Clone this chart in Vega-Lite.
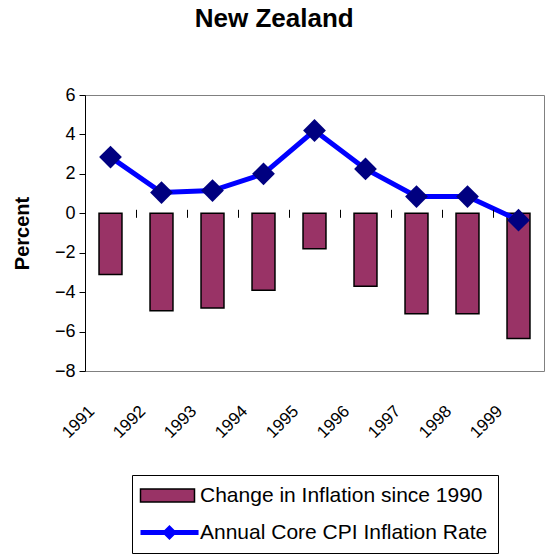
{
  "$schema": "https://vega.github.io/schema/vega-lite/v6.json",
  "width": 459,
  "height": 276,
  "autosize": "none",
  "padding": {"left": 85, "top": 95, "right": 5, "bottom": 185},
  "title": {
    "text": "New Zealand",
    "font": "Liberation Sans",
    "fontSize": 26,
    "fontWeight": "bold",
    "color": "black",
    "anchor": "middle",
    "frame": "bounds",
    "dx": -4,
    "offset": 54
  },
  "data": {
    "values": [
      {"year": "1991", "change": -3.1, "core": 2.85},
      {"year": "1992", "change": -4.95, "core": 1.05},
      {"year": "1993", "change": -4.8, "core": 1.15},
      {"year": "1994", "change": -3.9, "core": 2.0},
      {"year": "1995", "change": -1.8, "core": 4.2},
      {"year": "1996", "change": -3.7, "core": 2.25},
      {"year": "1997", "change": -5.1, "core": 0.85},
      {"year": "1998", "change": -5.1, "core": 0.85},
      {"year": "1999", "change": -6.35, "core": -0.35}
    ]
  },
  "encoding": {
    "x": {
      "field": "year",
      "type": "ordinal",
      "scale": {"paddingInner": 0.55, "paddingOuter": 0.275},
      "axis": {
        "title": null,
        "orient": "bottom",
        "offset": -161.7,
        "zindex": 1,
        "domain": false,
        "ticks": true,
        "tickOffset": -25.5,
        "tickSize": 8,
        "tickColor": "black",
        "tickWidth": 1,
        "labelAngle": -45,
        "labelAlign": "right",
        "labelBaseline": "middle",
        "labelPadding": 191,
        "labelOffset": 6.5,
        "labelFont": "Liberation Sans",
        "labelFontSize": 17,
        "labelColor": "black",
        "labelOverlap": false,
        "labelFlush": false
      }
    }
  },
  "layer": [
    {
      "mark": {"type": "bar", "stroke": "black", "strokeWidth": 1.5},
      "encoding": {
        "y": {
          "field": "change",
          "type": "quantitative",
          "scale": {"domain": [-8, 6], "nice": false, "zero": false},
          "axis": {
            "title": "Percent",
            "titleFont": "Liberation Sans",
            "titleFontSize": 20,
            "titleFontWeight": "bold",
            "titleColor": "black",
            "titlePadding": 22,
            "values": [-8, -6, -4, -2, 0, 2, 4, 6],
            "tickCount": 8,
            "labelOverlap": false,
            "grid": false,
            "domainColor": "black",
            "domainWidth": 1,
            "ticks": true,
            "tickColor": "black",
            "tickSize": 6,
            "labelPadding": 4,
            "labelFont": "Liberation Sans",
            "labelFontSize": 18,
            "labelColor": "black"
          }
        },
        "fill": {
          "datum": "Change in Inflation since 1990",
          "type": "nominal",
          "scale": {
            "domain": ["Change in Inflation since 1990", "Annual Core CPI Inflation Rate"],
            "range": ["#993366", "#0000FF"]
          },
          "legend": {
            "title": null,
            "orient": "none",
            "legendX": 47,
            "legendY": 380,
            "direction": "vertical",
            "padding": 10,
            "strokeColor": "black",
            "fillColor": "white",
            "symbolSize": 900,
            "symbolStrokeWidth": 1.5,
            "rowPadding": 15,
            "labelOffset": 37,
            "labelFont": "Liberation Sans",
            "labelFontSize": 21,
            "labelColor": "black",
            "labelLimit": 500,
            "encoding": {
              "symbols": {
                "shape": {"value": {"expr": "datum.value === 'Change in Inflation since 1990' ? 'M-0.8,-0.43H2.8V0.43H-0.8Z' : 'M-0.8,-0.17H3.07V0.17H-0.8Z M1.13,-0.5L1.63,0L1.13,0.5L0.63,0Z'"}},
                "fill": {"value": {"expr": "datum.value === 'Change in Inflation since 1990' ? '#993366' : {gradient: 'linear', x1: 0, y1: 0, x2: 1, y2: 0, stops: [{offset: 0, color: '#0000FF'}, {offset: 0.413, color: '#0000FF'}, {offset: 0.413, color: '#000080'}, {offset: 0.584, color: '#000080'}, {offset: 0.584, color: '#0000FF'}, {offset: 1, color: '#0000FF'}]}"}},
                "stroke": {"value": {"expr": "datum.value === 'Change in Inflation since 1990' ? 'black' : 'transparent'"}},
                "strokeWidth": {"value": {"expr": "datum.value === 'Change in Inflation since 1990' ? 1.5 : 0"}},
                "strokeOpacity": {"value": 1},
                "opacity": {"value": 1},
                "fillOpacity": {"value": 1}
              }
            }
          }
        }
      }
    },
    {
      "mark": {"type": "rule", "color": "black", "strokeWidth": 1},
      "encoding": {"y": {"datum": 0, "type": "quantitative"}}
    },
    {
      "mark": {"type": "line", "strokeWidth": 5},
      "encoding": {
        "y": {"field": "core", "type": "quantitative"},
        "stroke": {
          "datum": "Annual Core CPI Inflation Rate",
          "type": "nominal",
          "scale": {
            "domain": ["Change in Inflation since 1990", "Annual Core CPI Inflation Rate"],
            "range": ["black", "#0000FF"]
          },
          "legend": {
            "title": null,
            "orient": "none",
            "legendX": 47,
            "legendY": 380,
            "direction": "vertical",
            "padding": 10,
            "strokeColor": "black",
            "fillColor": "white",
            "symbolSize": 900,
            "symbolStrokeWidth": 1.5,
            "rowPadding": 15,
            "labelOffset": 37,
            "labelFont": "Liberation Sans",
            "labelFontSize": 21,
            "labelColor": "black",
            "labelLimit": 500,
            "encoding": {
              "symbols": {
                "shape": {"value": {"expr": "datum.value === 'Change in Inflation since 1990' ? 'M-0.8,-0.43H2.8V0.43H-0.8Z' : 'M-0.8,-0.17H3.07V0.17H-0.8Z M1.13,-0.5L1.63,0L1.13,0.5L0.63,0Z'"}},
                "fill": {"value": {"expr": "datum.value === 'Change in Inflation since 1990' ? '#993366' : {gradient: 'linear', x1: 0, y1: 0, x2: 1, y2: 0, stops: [{offset: 0, color: '#0000FF'}, {offset: 0.413, color: '#0000FF'}, {offset: 0.413, color: '#000080'}, {offset: 0.584, color: '#000080'}, {offset: 0.584, color: '#0000FF'}, {offset: 1, color: '#0000FF'}]}"}},
                "stroke": {"value": {"expr": "datum.value === 'Change in Inflation since 1990' ? 'black' : 'transparent'"}},
                "strokeWidth": {"value": {"expr": "datum.value === 'Change in Inflation since 1990' ? 1.5 : 0"}},
                "strokeOpacity": {"value": 1},
                "opacity": {"value": 1},
                "fillOpacity": {"value": 1}
              }
            }
          }
        }
      }
    },
    {
      "mark": {"type": "point", "shape": "diamond", "filled": true, "color": "#000080", "opacity": 1, "size": 520},
      "encoding": {
        "y": {"field": "core", "type": "quantitative"}
      }
    }
  ],
  "config": {
    "font": "Liberation Sans",
    "axis": {"labelOverlap": false},
    "axisY": {"labelOverlap": false},
    "view": {"stroke": "#808080", "strokeWidth": 1}
  }
}
